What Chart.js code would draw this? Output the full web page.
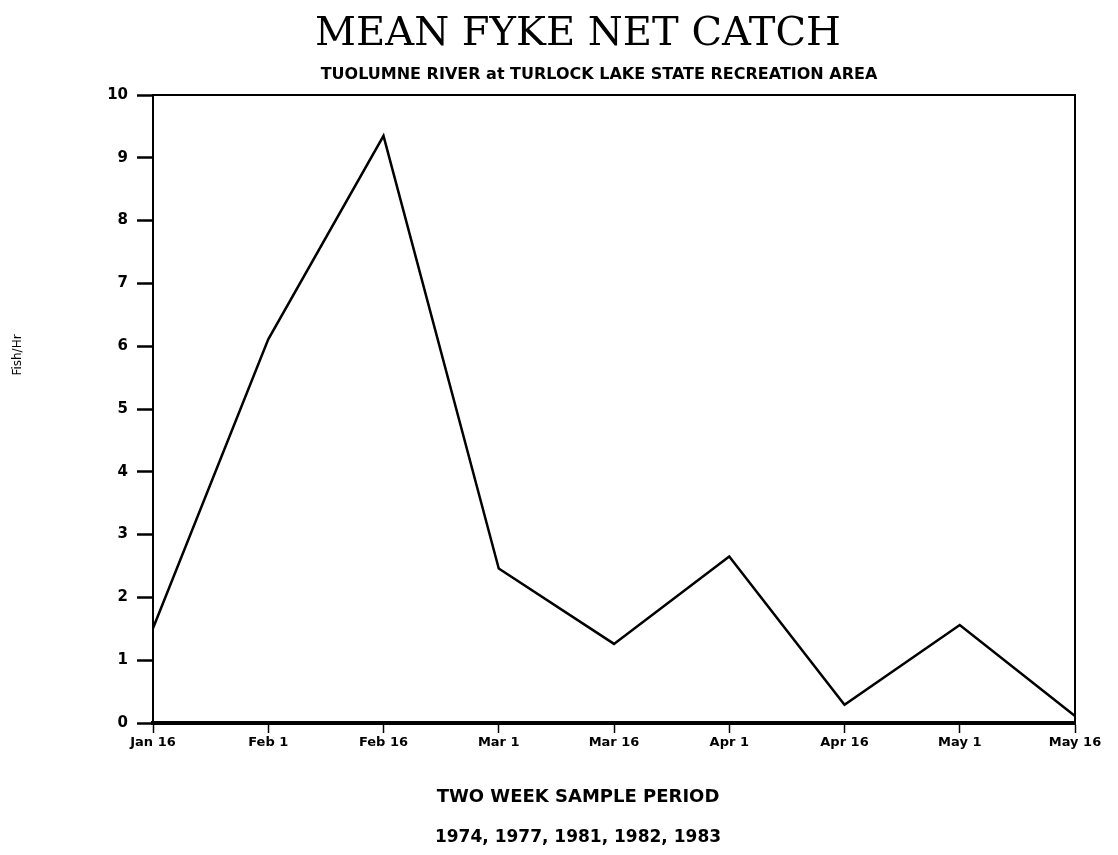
<!DOCTYPE html>
<html>
<head>
<meta charset="utf-8">
<script src="https://cdn.jsdelivr.net/npm/chart.js@4"></script>
<style>
  html, body { margin: 0; padding: 0; background: #fff; }
  #wrap { width: 1118px; height: 855px; }
</style>
</head>
<body>
<div id="wrap"><canvas id="fykeChart" width="1118" height="855"></canvas></div>
<script>
// data
const periods = ['Jan 16', 'Feb 1', 'Feb 16', 'Mar 1', 'Mar 16', 'Apr 1', 'Apr 16', 'May 1', 'May 16'];
const fishPerHour = [1.51, 6.11, 9.35, 2.46, 1.26, 2.65, 0.29, 1.56, 0.11];
const yTicks = [0, 1, 2, 3, 4, 5, 6, 7, 8, 9, 10];

const titleText = 'MEAN FYKE NET CATCH';
const subtitleText = 'TUOLUMNE RIVER at TURLOCK LAKE STATE RECREATION AREA';
const xTitleText = 'TWO WEEK SAMPLE PERIOD';
const yearsText = '1974, 1977, 1981, 1982, 1983';
const yTitleText = 'Fish/Hr';

// titles and frame drawn by hand
const textPlugin = {
  id: 'textPlugin',
  afterDraw(chart) {
    const ctx = chart.ctx;
    const area = chart.chartArea;
    ctx.save();
    ctx.fillStyle = '#000';
    ctx.textBaseline = 'middle';
    ctx.textAlign = 'center';

    ctx.font = '40px "DejaVu Serif"';
    ctx.fillText(titleText, 578, 35);

    ctx.font = 'bold 16px "DejaVu Sans"';
    ctx.fillText(subtitleText, 599, 75);

    ctx.font = 'bold 18px "DejaVu Sans"';
    ctx.fillText(xTitleText, 578, 797);

    ctx.font = 'bold 17px "DejaVu Sans"';
    ctx.fillText(yearsText, 578, 838);

    ctx.translate(18, 355);
    ctx.rotate(-Math.PI / 2);
    ctx.font = '12px "DejaVu Sans"';
    ctx.fillText(yTitleText, 0, 0);
    ctx.restore();

    // box: top and right edges
    ctx.save();
    ctx.strokeStyle = '#000';
    ctx.lineWidth = 2;
    ctx.beginPath();
    ctx.moveTo(area.left, area.top);
    ctx.lineTo(area.right, area.top);
    ctx.lineTo(area.right, area.bottom);
    ctx.stroke();
    ctx.restore();
  }
};

const ctx = document.getElementById('fykeChart').getContext('2d');
new Chart(ctx, {
  type: 'line',
  data: {
    labels: periods,
    datasets: [{
      data: fishPerHour,
      borderColor: '#000',
      borderWidth: 2.5,
      pointRadius: 0,
      tension: 0,
      fill: false
    }]
  },
  options: {
    responsive: false,
    animation: false,
    layout: { padding: { top: 95, left: 0, right: 43, bottom: 0 } },
    plugins: {
      legend: { display: false },
      tooltip: { enabled: false },
      title: { display: false }
    },
    scales: {
      x: {
        type: 'category',
        offset: false,
        grid: {
          display: true,
          drawOnChartArea: false,
          drawTicks: true,
          tickLength: 10,
          tickColor: '#000',
          tickWidth: 1.5
        },
        border: { display: true, color: '#000', width: 4 },
        ticks: {
          color: '#000',
          font: { family: 'DejaVu Sans', size: 13, weight: 'bold' },
          padding: 2,
          maxRotation: 0,
          autoSkip: false
        },
        afterFit(scale) { scale.height = 855 - 723; }
      },
      y: {
        min: 0,
        max: 10,
        afterBuildTicks(scale) { scale.ticks = yTicks.map(v => ({ value: v })); },
        grid: {
          display: true,
          drawOnChartArea: false,
          drawTicks: true,
          tickLength: 16,
          tickColor: '#000',
          tickWidth: 2.5
        },
        border: { display: true, color: '#000', width: 2 },
        ticks: {
          color: '#000',
          font: { family: 'DejaVu Sans', size: 15, weight: 'bold' },
          padding: 9
        },
        afterFit(scale) { scale.width = 153; }
      }
    }
  },
  plugins: [textPlugin]
});
</script>
</body>
</html>
